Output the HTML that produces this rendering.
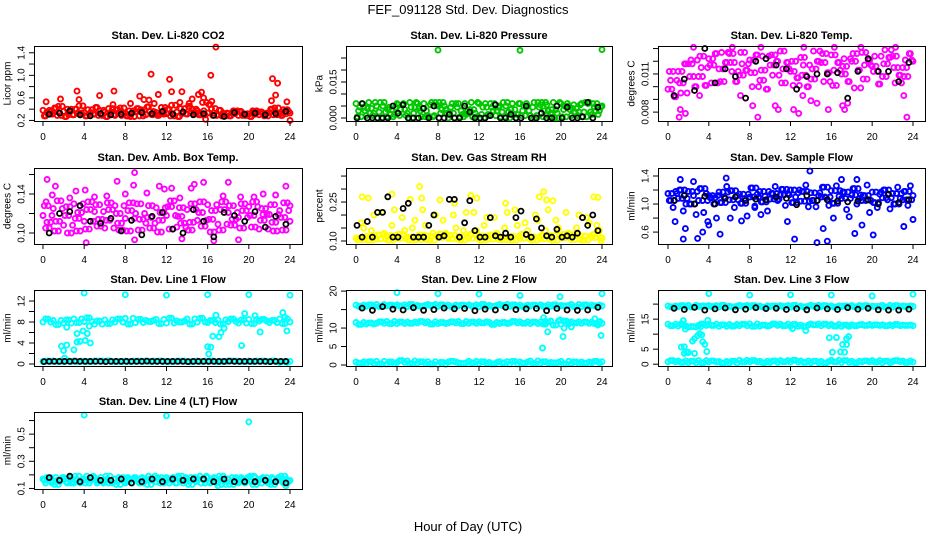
<!DOCTYPE html>
<html><head><meta charset="utf-8"><style>
html,body{margin:0;padding:0;background:#fff;}
svg{display:block;font-family:"Liberation Sans",Arial,sans-serif;}
</style></head><body>
<svg id="chart" width="936" height="540" viewBox="0 0 936 540" xmlns="http://www.w3.org/2000/svg">
<text x="468" y="14" text-anchor="middle" font-size="13">FEF_091128  Std. Dev. Diagnostics</text>
<text x="468" y="531" text-anchor="middle" font-size="13">Hour of Day (UTC)</text>
</svg>
<script>
// ---- shared time arrays (hours) ----
const hours = [0,1,2,3,4,5,6,7,8,9,10,11,12,13,14,15,16,17,18,19,20,21,22,23,24];
const blkHours = [0.6,1.6,2.6,3.6,4.6,5.6,6.6,7.6,8.6,9.6,10.6,11.6,12.6,13.6,14.6,15.6,16.6,17.6,18.6,19.6,20.6,21.6,22.6,23.6];
const blkHours2 = [0.1,1.1,2.1,3.1,4.1,5.1,6.1,7.1,8.1,9.1,10.1,11.1,12.1,13.1,14.1,15.1,16.1,17.1,18.1,19.1,20.1,21.1,22.1,23.1];
const xTicks = [0,4,8,12,16,20,24];

// ---- Li-820 CO2 ----
const co2A = [0.38,0.33,0.36,0.30,0.34,0.31,0.35,0.29,0.33,0.36,0.30,0.34,0.32,0.35,0.31,0.37,0.33,0.30,0.32,0.29,0.31,0.30,0.34,0.32,0.33];
const co2B = [0.28,0.42,0.27,0.40,0.28,0.43,0.27,0.39,0.28,0.41,0.44,0.29,0.40,0.27,0.45,0.30,0.48,0.38,0.28,0.36,0.27,0.35,0.40,0.29,0.30];
const co2C = [0.31,0.45,0.30,0.46,0.31,0.38,0.30,0.42,0.27,0.39,0.31,0.43,0.47,0.32,0.40,0.52,0.29,0.33,0.37,0.32,0.35,0.28,0.42,0.36,0.28];
const co2D = [0.35,0.29,0.40,0.33,0.39,0.29,0.41,0.34,0.37,0.28,0.36,0.31,0.28,0.41,0.34,0.30,0.41,0.28,0.34,0.29,0.37,0.33,0.30,0.39,0.33];
const co2Out = [[0.3,0.53],[1.7,0.58],[3.3,0.72],[3.5,0.57],[5.5,0.64],[6.8,0.48],[6.9,0.72],[9.4,0.63],[9.8,0.57],[10.3,0.56],[10.5,1.02],[10.8,0.5],[11.2,0.66],[12.3,0.93],[12.5,0.71],[13.5,0.71],[13.3,0.52],[14.5,0.58],[15.1,0.66],[15.4,0.7],[15.6,0.6],[16.3,1.0],[16.4,0.54],[16.8,1.5],[22.3,0.94],[22.6,0.65],[22.8,0.86],[22.2,0.55],[23.7,0.53],[24,0.2],[8.5,0.5],[14.2,0.5],[15.8,0.22]];
const co2Blk = [0.31,0.33,0.37,0.30,0.28,0.32,0.30,0.31,0.33,0.34,0.32,0.36,0.31,0.35,0.30,0.32,0.29,0.27,0.34,0.31,0.33,0.30,0.32,0.36];

// ---- Li-820 Pressure ----
const prA = [0.006,0.001,0.005,0.0005,0.006,0.002,0.006,0.001,0.005,0.0,0.006,0.002,0.006,0.001,0.005,0.0,0.006,0.001,0.0055,0.002,0.006,0.001,0.006,0.0015,0.005];
const prB = [0.003,0.0065,0.0025,0.0045,0.001,0.0065,0.003,0.0055,0.002,0.0045,0.003,0.0065,0.0015,0.0045,0.0025,0.006,0.003,0.0045,0.0005,0.0065,0.0035,0.0055,0.0025,0.0045,0.002];
const prC = [0.0005,0.004,0.0,0.0035,0.0055,0.0,0.004,0.0005,0.0065,0.002,0.0005,0.0035,0.0,0.006,0.0005,0.0035,0.001,0.0,0.0065,0.0035,0.0005,0.004,0.0005,0.006,0.0];
const prD = [0.0045,0.002,0.0065,0.0015,0.0035,0.0045,0.0005,0.0065,0.0035,0.006,0.0015,0.0005,0.0045,0.003,0.0065,0.0015,0.005,0.0065,0.003,0.0,0.005,0.0025,0.0065,0.003,0.0055];
const prOut = [[8,0.0283],[16,0.0282],[24,0.0285]];
const prBlk = [0.006,0.0,0.0,0.005,0.0055,0.0,0.004,0.005,0.0,0.0,0.005,0.0,0.0,0.0055,0.0,0.0,0.005,0.0,0.0,0.005,0.0045,0.0,0.0065,0.0045];
const prBlk2 = [0,0,0,0,0.002,0,0,0,0,0.0015,0,0.0025,0,0.001,0,0.0015,0,0,0.002,0,0,0,0.0005,0];

// ---- Li-820 Temp ----
const ltA = [0.0098,0.0112,0.0118,0.0108,0.0122,0.0114,0.0126,0.0109,0.0121,0.0105,0.0117,0.0128,0.0112,0.0123,0.0106,0.0119,0.0125,0.0110,0.0120,0.0127,0.0116,0.0108,0.0124,0.0115,0.0120];
const ltB = [0.0105,0.0095,0.0121,0.0115,0.0103,0.0127,0.0112,0.0118,0.0100,0.0124,0.0109,0.0114,0.0101,0.0117,0.0128,0.0104,0.0113,0.0122,0.0099,0.0117,0.0124,0.0129,0.0103,0.0121,0.0110];
const ltC = [0.0112,0.0103,0.0108,0.0124,0.0117,0.0104,0.0119,0.0127,0.0111,0.0113,0.0125,0.0103,0.0120,0.0109,0.0114,0.0126,0.0101,0.0116,0.0126,0.0106,0.0112,0.0118,0.0115,0.0108,0.0126];
const ltD = [0.0092,0.0118,0.0100,0.0101,0.0126,0.0119,0.0104,0.0113,0.0125,0.0098,0.0120,0.0119,0.0107,0.0100,0.0120,0.0111,0.0119,0.0104,0.0113,0.0121,0.0102,0.0123,0.0109,0.0126,0.0103];
const ltOut = [[1.1,0.0076],[1.2,0.0082],[1.7,0.0079],[0.6,0.0093],[3.1,0.0093],[7.1,0.0093],[8.3,0.0085],[8.8,0.0076],[10.5,0.0085],[10.8,0.0082],[12.3,0.0082],[12.8,0.0079],[13.2,0.0093],[14,0.0089],[14.6,0.0087],[15.7,0.0082],[17.1,0.0085],[17.3,0.0082],[17.6,0.0087],[23.1,0.0093],[23.4,0.0076],[2.5,0.0131],[6.3,0.0131],[9.1,0.0131],[13.3,0.0131],[16.3,0.0131],[18.9,0.0131],[22.3,0.0131]];
const ltBlk = [0.0093,0.0106,0.0097,0.0130,0.0103,0.0114,0.0108,0.0091,0.0120,0.0122,0.0117,0.0114,0.0098,0.0108,0.0110,0.0110,0.0111,0.0091,0.0112,0.0122,0.0112,0.0112,0.0104,0.0119];

// ---- Amb Box Temp ----
const abA = [0.118,0.125,0.108,0.130,0.112,0.122,0.105,0.128,0.115,0.120,0.110,0.126,0.118,0.106,0.124,0.113,0.129,0.109,0.121,0.116,0.127,0.104,0.119,0.123,0.112];
const abB = [0.105,0.112,0.127,0.102,0.124,0.107,0.131,0.110,0.123,0.103,0.128,0.113,0.104,0.126,0.111,0.132,0.101,0.124,0.108,0.130,0.106,0.125,0.111,0.103,0.127];
const abC = [0.128,0.102,0.118,0.115,0.104,0.129,0.113,0.120,0.102,0.130,0.116,0.101,0.127,0.117,0.103,0.121,0.114,0.103,0.128,0.105,0.118,0.113,0.129,0.116,0.108];
const abD = [0.111,0.133,0.100,0.121,0.132,0.114,0.124,0.103,0.131,0.114,0.105,0.121,0.133,0.110,0.130,0.107,0.123,0.132,0.114,0.123,0.132,0.119,0.102,0.131,0.120];
const abOut = [[0.3,0.132],[0.4,0.155],[1.2,0.148],[0.9,0.139],[2.6,0.136],[3.2,0.143],[4.1,0.144],[5,0.137],[6.2,0.138],[7.2,0.153],[8,0.14],[8.8,0.149],[8.9,0.162],[10.1,0.141],[11.3,0.148],[11.8,0.145],[12.5,0.146],[13.3,0.136],[14.4,0.146],[14.7,0.15],[15.6,0.152],[17.5,0.138],[18,0.152],[19.2,0.137],[20.5,0.137],[21.4,0.14],[22.6,0.139],[23.6,0.148],[24,0.128],[4.2,0.09],[8.9,0.093],[13.5,0.094],[16.6,0.092],[19,0.093]];
const abBlk = [0.100,0.120,0.122,0.128,0.112,0.110,0.115,0.102,0.113,0.098,0.117,0.121,0.104,0.100,0.124,0.112,0.096,0.121,0.118,0.112,0.122,0.106,0.117,0.109];

// ---- Gas Stream RH ----
const rhA = [0.112,0.118,0.108,0.121,0.110,0.115,0.106,0.119,0.113,0.109,0.117,0.111,0.120,0.107,0.114,0.118,0.110,0.116,0.108,0.121,0.112,0.106,0.119,0.113,0.111];
const rhB = [0.105,0.104,0.124,0.103,0.126,0.104,0.123,0.103,0.127,0.122,0.104,0.125,0.103,0.124,0.105,0.103,0.126,0.104,0.122,0.103,0.126,0.124,0.104,0.125,0.102];
const rhC = [0.17,0.14,0.21,0.16,0.19,0.15,0.22,0.13,0.18,0.20,0.14,0.21,0.16,0.19,0.15,0.22,0.17,0.20,0.14,0.18,0.21,0.15,0.19,0.16,0.20];
const rhD = [0.15,0.20,0.13,0.22,0.14,0.18,0.16,0.20,0.13,0.15,0.21,0.14,0.19,0.13,0.21,0.16,0.14,0.18,0.22,0.15,0.13,0.20,0.17,0.14,0.13];
const rhOut = [[0.6,0.27],[1.2,0.265],[3.5,0.28],[5.3,0.26],[6.2,0.31],[6.4,0.265],[8.2,0.258],[9.6,0.245],[11.2,0.275],[11.8,0.265],[14.6,0.245],[17.9,0.27],[18.3,0.29],[18.6,0.258],[19.2,0.255],[23.2,0.27],[23.6,0.268],[23.9,0.1]];
const rhBlk = [0.115,0.115,0.21,0.115,0.225,0.115,0.115,0.20,0.12,0.26,0.17,0.14,0.115,0.12,0.13,0.19,0.125,0.185,0.12,0.145,0.12,0.13,0.16,0.14];
const rhBlk2 = [0.16,0.175,0.21,0.27,0.115,0.245,0.115,0.16,0.115,0.26,0.115,0.255,0.115,0.19,0.115,0.115,0.215,0.115,0.15,0.115,0.115,0.115,0.19,0.2];

// ---- Sample Flow ----
const sfA = [1.15,1.08,1.18,1.05,1.12,1.17,1.06,1.14,1.10,1.18,1.07,1.13,1.20,1.04,1.16,1.10,1.19,1.08,1.13,1.05,1.17,1.09,1.15,1.06,1.12];
const sfB = [1.05,1.20,1.00,1.22,1.09,1.02,1.19,1.01,1.23,1.03,1.15,1.21,1.02,1.18,1.05,1.24,1.01,1.17,1.22,1.12,1.02,1.20,1.00,1.18,1.04];
const sfC = [0.95,0.90,1.12,0.88,1.00,1.10,0.95,1.08,0.97,1.11,1.25,0.98,1.10,1.27,0.96,1.09,1.26,0.92,1.00,1.27,0.95,1.06,1.24,0.98,1.10];
const sfD = [1.18,1.00,0.85,1.15,0.80,1.25,1.12,0.83,1.14,0.90,1.05,1.15,1.16,0.96,1.12,0.98,1.11,0.82,1.08,0.88,1.14,0.93,1.08,1.26,0.97];
const sfOut = [[0.7,0.75],[1.2,1.35],[1.5,0.5],[1.7,0.65],[2.5,1.32],[2.9,0.51],[3.4,0.6],[3.9,0.75],[5.1,0.57],[5.7,1.37],[6.1,0.8],[7.2,0.76],[8.5,0.95],[9.1,0.85],[11.7,0.75],[12.4,0.5],[14.6,0.45],[15.2,0.65],[15.6,0.47],[16.2,0.8],[17,1.35],[18.3,0.58],[18.5,1.35],[19,0.7],[20.1,0.56],[23.1,0.68],[24,0.78],[13.9,1.47],[4,0.7]];
const sfBlk = [1.05,1.12,1.00,1.11,1.00,1.08,1.10,1.05,1.07,1.06,1.10,1.08,0.99,1.12,1.05,1.06,1.04,1.03,1.04,1.06,1.00,1.14,1.02,1.06];

// ---- Line 1 Flow ----
const l1A = [8.0,8.3,7.8,8.6,8.1,7.6,8.4,8.0,8.7,7.9,8.3,8.5,7.8,8.2,8.6,8.0,7.9,8.4,8.1,7.8,8.5,8.2,7.9,8.6,8.0];
const l1B = [8.6,7.5,8.4,7.9,8.8,8.2,7.7,8.6,7.6,8.5,8.1,7.7,8.7,8.0,7.6,8.7,8.3,7.6,8.6,8.4,7.7,8.5,8.3,7.7,8.5];
const l1C = [0.5,0.6,0.45,0.55,0.5,0.6,0.5,0.45,0.55,0.5,0.6,0.5,0.45,0.55,0.5,0.6,0.5,0.45,0.55,0.5,0.6,0.5,0.45,0.3,0.5];
const l1D = [0.55,0.5,0.6,0.45,0.5,0.55,0.6,0.5,0.45,0.55,0.5,0.6,0.5,0.55,0.45,0.5,0.6,0.5,0.55,0.5,0.45,0.55,0.6,0.5,0.55];
const l1Out = [[1.8,3.4],[2.0,2.6],[2.1,1.1],[2.3,3.6],[2.3,7.0],[3.0,2.7],[3.3,4.2],[3.3,5.8],[3.6,4.3],[3.9,6.3],[4.1,4.5],[4.3,5.8],[4.6,4.0],[4.5,7.2],[4.0,13.5],[8,13.2],[12,13.1],[16,13.2],[20,13.2],[24,13.1],[16.0,3.3],[16.1,1.9],[16.3,3.2],[16.5,5.3],[17.1,5.2],[17.3,6.0],[17.6,6.8],[16.8,9.3],[19.3,3.5],[19.6,9.6],[20.6,9.2],[21.1,6.1],[23.3,9.8],[23.7,6.3],[23.5,8.9]];
const l1Blk = [0.5,0.5,0.5,0.5,0.5,0.5,0.5,0.5,0.5,0.5,0.5,0.5,0.5,0.5,0.5,0.5,0.5,0.5,0.5,0.5,0.5,0.5,0.5,0.5];
const l1Blk2 = [0.45,0.5,0.5,0.55,0.5,0.5,0.45,0.5,0.5,0.5,0.55,0.5,0.5,0.5,0.45,0.5,0.5,0.5,0.55,0.5,0.5,0.5,0.45,0.5];

// ---- Line 2 Flow ----
const l2Hi = [16.2,15.9,16.4,16.0,16.3,15.8,16.1,16.4,15.9,16.2,16.0,16.3,15.8,16.1,16.4,15.9,16.2,16.0,16.3,15.9,16.1,16.4,15.8,16.2,16.0];
const l2Hi2 = [15.9,16.3,15.8,16.2,16.0,16.4,15.9,16.1,16.3,15.8,16.2,16.0,16.4,15.9,16.1,16.3,15.8,16.2,15.9,16.3,16.0,15.8,16.3,16.0,16.2];
const l2Mid = [11.0,11.4,11.7,11.2,11.6,11.3,11.8,11.1,11.5,11.7,11.2,11.6,11.4,11.0,11.5,11.8,11.3,11.6,11.1,10.8,11.9,11.4,11.6,11.2,11.5];
const l2Mid2 = [11.5,11.1,11.3,11.8,11.2,11.6,11.4,11.7,11.2,11.4,11.8,11.3,11.7,11.5,11.2,11.4,11.7,11.2,11.6,11.9,11.1,11.7,11.3,11.6,11.3];
const l2Lo = [0.8,0.4,1.0,0.3,0.7,1.1,0.5,0.9,0.2,0.8,0.6,1.0,0.4,0.7,0.9,0.3,0.8,1.1,0.5,0.7,1.0,0.4,0.8,0.6,0.9];
const l2Lo2 = [0.5,0.9,0.3,0.8,1.2,0.4,0.9,0.3,0.7,1.0,0.4,0.6,0.9,0.3,0.6,1.0,0.5,0.4,0.9,0.6,0.3,0.8,0.5,1.0,0.6];
const l2Out = [[4,19.6],[8,19.3],[12,19.2],[16,18.8],[19.9,18.5],[24,19.3],[18.3,12.8],[18.2,4.6],[18.7,9.0],[18.4,11.8],[19.9,12.2],[20.2,7.7],[20.3,10.0],[20.7,11.6],[21,10.3],[23.3,12.5],[23.6,10.8],[23.9,8.0],[23.8,11.8]];
const l2Blk = [15.4,14.8,15.8,15.1,14.9,15.5,14.8,15.0,15.4,15.2,15.3,14.7,15.1,14.9,15.6,15.0,15.2,15.3,14.7,15.3,14.9,14.8,14.9,15.6];

// ---- Line 3 Flow ----
const l3Hi = [19.4,19.1,19.6,19.2,19.5,19.0,19.3,19.6,19.1,19.4,19.2,19.5,19.0,19.3,19.6,19.1,19.4,19.2,19.5,19.1,19.3,19.6,19.0,19.4,19.2];
const l3Hi2 = [19.1,19.5,19.0,19.4,19.2,19.6,19.1,19.3,19.5,19.0,19.4,19.2,19.6,19.1,19.3,19.5,19.0,19.4,19.1,19.5,19.2,19.0,19.5,19.2,19.4];
const l3Mid = [12.8,13.2,12.5,13.4,12.9,13.1,12.7,13.3,12.6,13.0,13.4,12.8,13.2,12.5,13.1,13.3,12.7,13.0,12.8,12.9,13.1,12.8,13.2,12.9,13.0];
const l3Mid2 = [13.3,12.7,12.4,12.9,13.3,12.6,13.2,12.8,13.4,12.7,12.9,13.3,12.6,13.0,13.4,12.8,13.2,12.6,13.1,13.2,12.9,13.1,12.8,13.0,12.8];
const l3Lo = [0.8,1.1,0.5,1.2,0.7,0.9,0.4,1.3,0.8,1.0,0.6,1.2,0.7,1.1,0.5,0.9,1.3,0.6,1.0,0.8,1.2,0.5,0.9,1.1,0.7];
const l3Lo2 = [1.2,0.6,1.0,0.5,1.1,0.4,1.0,0.7,1.2,0.5,1.1,0.8,1.3,0.6,1.0,0.4,0.8,1.2,0.5,1.1,0.7,1.0,1.2,0.6,1.0];
const l3Out = [[1.3,13.5],[1.5,14.5],[1.3,5.7],[1.6,5.8],[1.6,3.6],[1.8,4.0],[2.0,3.9],[2.6,3.6],[2.4,7.7],[2.6,8.5],[2.9,9.5],[3.1,10.2],[3.3,9.8],[3.4,7.5],[3.6,6.6],[3.8,4.2],[3.2,12.5],[3.9,14.6],[4,23.5],[8,23.0],[12,23.1],[16,23.0],[20,22.7],[24,23.3],[15.8,8.8],[16.1,4.0],[16.5,8.9],[16.9,4.1],[17.1,6.6],[17.3,4.0],[17.5,6.6],[17.5,8.5],[17.7,9.2],[17.6,12.8],[1.7,11.7],[13.5,11.2],[12.2,11.9]];
const l3Blk = [18.6,18.2,18.9,18.0,18.4,18.7,18.1,18.3,18.8,18.5,18.6,18.2,18.5,18.1,18.7,18.4,18.2,18.8,18.3,18.6,18.1,18.0,18.0,18.3];

// ---- Line 4 (LT) Flow ----
const l4A = [0.17,0.15,0.18,0.14,0.16,0.18,0.15,0.17,0.14,0.18,0.16,0.15,0.18,0.14,0.17,0.16,0.18,0.15,0.17,0.14,0.18,0.16,0.15,0.17,0.16];
const l4B = [0.14,0.18,0.15,0.17,0.19,0.14,0.17,0.15,0.18,0.15,0.19,0.17,0.14,0.18,0.15,0.19,0.14,0.17,0.15,0.18,0.15,0.14,0.18,0.15,0.17];
const l4C = [0.16,0.13,0.17,0.19,0.14,0.16,0.19,0.13,0.16,0.17,0.13,0.18,0.16,0.19,0.13,0.17,0.15,0.19,0.13,0.16,0.19,0.17,0.13,0.19,0.14];
const l4D = [0.18,0.16,0.14,0.16,0.17,0.15,0.14,0.18,0.17,0.14,0.17,0.14,0.17,0.16,0.18,0.14,0.17,0.13,0.18,0.17,0.13,0.18,0.17,0.14,0.18];
const l4Out = [[4,0.64],[12,0.635],[20,0.59],[23.6,0.12],[17,0.12]];
const l4Blk = [0.18,0.16,0.19,0.15,0.18,0.16,0.16,0.17,0.14,0.15,0.17,0.15,0.17,0.16,0.17,0.17,0.15,0.17,0.15,0.15,0.15,0.16,0.15,0.14];

// ---- layout (positions only) ----
const C1=[34,302,43,290], C2=[346,612,356,602], C3=[658,925,668,913];
const R1=[46,121], R2=[168,244], R3=[290,366], R4=[412,489];

// each band array is sampled at two sub-hour offsets
const panels = [
 {name:'co2',title:'Stan. Dev. Li-820 CO2',ylab:'Licor ppm',col:'#ff0000',c:C1,r:R1,lo:0.19,hi:1.52,
  yt:[0.2,0.4,0.6,0.8,1.0,1.2,1.4],yl:['0.2','','0.6','','1.0','','1.4'],
  bands:[[co2A,0],[co2B,0.25],[co2C,0.5],[co2D,0.75],[co2B,0.125],[co2D,0.375],[co2A,0.625],[co2C,0.875]],out:co2Out,blk:[[co2Blk,blkHours]]},
 {name:'pressure',title:'Stan. Dev. Li-820 Pressure',ylab:'kPa',col:'#00c800',c:C2,r:R1,lo:-0.00125,hi:0.03,
  yt:[0,0.005,0.01,0.015,0.02,0.025],yl:['0.000','','','0.015','',''],
  bands:[[prA,0],[prB,0.25],[prC,0.5],[prD,0.75],[prC,0.125],[prD,0.375],[prA,0.625],[prB,0.875]],out:prOut,blk:[[prBlk,blkHours],[prBlk2,blkHours2]]},
 {name:'licor-temp',title:'Stan. Dev. Li-820 Temp.',ylab:'degrees C',col:'#ff00ff',c:C3,r:R1,lo:0.0073,hi:0.0132,
  yt:[0.008,0.009,0.010,0.011,0.012,0.013],yl:['0.008','','','0.011','',''],
  bands:[[ltA,0],[ltB,0.25],[ltC,0.5],[ltD,0.75],[ltC,0.125],[ltA,0.375],[ltD,0.625],[ltB,0.875]],out:ltOut,blk:[[ltBlk,blkHours]]},
 {name:'amb-box-temp',title:'Stan. Dev. Amb. Box Temp.',ylab:'degrees C',col:'#ff00ff',c:C1,r:R2,lo:0.0887,hi:0.1667,
  yt:[0.10,0.12,0.14,0.16],yl:['0.10','','0.14',''],
  bands:[[abA,0],[abB,0.25],[abC,0.5],[abD,0.75],[abC,0.125],[abD,0.375],[abB,0.625],[abA,0.875]],out:abOut,blk:[[abBlk,blkHours]]},
 {name:'gas-rh',title:'Stan. Dev. Gas Stream RH',ylab:'percent',col:'#ffff00',c:C2,r:R2,lo:0.0885,hi:0.381,
  yt:[0.10,0.15,0.20,0.25,0.30,0.35],yl:['0.10','','','0.25','',''],
  bands:[[rhA,0],[rhB,0.25],[rhC,0.5],[rhD,0.75],[rhB,0.125],[rhA,0.375],[rhB,0.625],[rhA,0.875]],out:rhOut,blk:[[rhBlk,blkHours],[rhBlk2,blkHours2]]},
 {name:'sample-flow',title:'Stan. Dev. Sample Flow',ylab:'ml/min',col:'#0000ff',c:C3,r:R2,lo:0.43,hi:1.514,
  yt:[0.6,0.8,1.0,1.2,1.4],yl:['0.6','','1.0','','1.4'],
  bands:[[sfA,0],[sfB,0.25],[sfC,0.5],[sfD,0.75],[sfB,0.125],[sfA,0.375],[sfB,0.625],[sfA,0.875]],out:sfOut,blk:[[sfBlk,blkHours]]},
 {name:'line1-flow',title:'Stan. Dev. Line 1 Flow',ylab:'ml/min',col:'#00ffff',c:C1,r:R3,lo:-0.38,hi:14.1,
  yt:[0,2,4,6,8,10,12],yl:['0','','4','','8','','12'],
  bands:[[l1A,0],[l1B,0.5],[l1C,0],[l1D,0.5],[l1B,0.25],[l1A,0.75],[l1D,0.25],[l1C,0.75]],out:l1Out,blk:[[l1Blk,blkHours],[l1Blk2,blkHours2]]},
 {name:'line2-flow',title:'Stan. Dev. Line 2 Flow',ylab:'ml/min',col:'#00ffff',c:C2,r:R3,lo:-0.27,hi:20.3,
  yt:[0,5,10,15,20],yl:['0','5','10','','20'],
  bands:[[l2Hi,0],[l2Hi2,0.5],[l2Mid,0.25],[l2Mid2,0.75],[l2Lo,0],[l2Lo2,0.5],[l2Hi2,0.25],[l2Hi,0.75],[l2Mid2,0],[l2Mid,0.5],[l2Lo2,0.25],[l2Lo,0.75]],out:l2Out,blk:[[l2Blk,blkHours]]},
 {name:'line3-flow',title:'Stan. Dev. Line 3 Flow',ylab:'ml/min',col:'#00ffff',c:C3,r:R3,lo:-0.6,hi:24.7,
  yt:[0,5,10,15,20],yl:['0','5','','15',''],
  bands:[[l3Hi,0],[l3Hi2,0.5],[l3Mid,0.25],[l3Mid2,0.75],[l3Lo,0],[l3Lo2,0.5],[l3Hi2,0.25],[l3Hi,0.75],[l3Mid2,0],[l3Mid,0.5],[l3Lo2,0.25],[l3Lo,0.75]],out:l3Out,blk:[[l3Blk,blkHours]]},
 {name:'line4-flow',title:'Stan. Dev. Line 4 (LT) Flow',ylab:'ml/min',col:'#00ffff',c:C1,r:R4,lo:0.096,hi:0.663,
  yt:[0.1,0.2,0.3,0.4,0.5,0.6],yl:['0.1','','0.3','','0.5',''],
  bands:[[l4A,0],[l4B,0.25],[l4C,0.5],[l4D,0.75],[l4C,0.125],[l4D,0.375],[l4A,0.625],[l4B,0.875]],out:l4Out,blk:[[l4Blk,blkHours]]}
];

const svg = document.getElementById('chart');
const NS = 'http://www.w3.org/2000/svg';
function mk(tag, attrs, parent){
  const e = document.createElementNS(NS, tag);
  for (const k in attrs) e.setAttribute(k, attrs[k]);
  parent.appendChild(e);
  return e;
}

panels.forEach(p => {
  const [x0,x1,xa,xb] = p.c, [y0,y1] = p.r;
  const X = t => xa + t/24*(xb-xa);
  const Y = v => y1 - (v-p.lo)/(p.hi-p.lo)*(y1-y0);
  const g = mk('g', {}, svg);
  
  

  const tt = mk('text', {x:(x0+x1)/2, y:y0-7, 'text-anchor':'middle', 'font-size':'11', 'font-weight':'bold'}, g);
  
  
  tt.textContent = p.title;

  const yl = mk('text', {transform:`translate(${x0-26},${(y0+y1)/2}) rotate(-90)`, 'text-anchor':'middle', 'font-size':'10', 'dominant-baseline':'central'}, g);
  
  
  yl.textContent = p.ylab;

  const pts = mk('g', {fill:'none', stroke:p.col, 'stroke-width':'1.9'}, g);
  
  
  p.bands.forEach(([vals, off]) => {
    vals.forEach((v, i) => {
      const t = hours[i] + off;
      if (t > 24.05) return;
      const c = mk('circle', {cx:X(t).toFixed(1), cy:Y(v).toFixed(1), r:'2.5'}, pts);
      
      
    });
  });
  p.out.forEach(([t, v]) => {
    const c = mk('circle', {cx:X(t).toFixed(1), cy:Y(v).toFixed(1), r:'2.5'}, pts);
    
    
  });
  const bp = mk('g', {fill:'none', stroke:'#000', 'stroke-width':'1.8'}, g);
  
  
  p.blk.forEach(([vals, ts]) => {
    vals.forEach((v, i) => {
      const c = mk('circle', {cx:X(ts[i]).toFixed(1), cy:Y(v).toFixed(1), r:'2.5'}, bp);
      
      
    });
  });

  const box = mk('rect', {x:x0+0.5, y:y0+0.5, width:x1-x0, height:y1-y0, fill:'none', stroke:'#000', 'stroke-width':'1'}, g);
  
  

  const xg = mk('g', {'font-size':'10'}, g);
  
  
  mk('line', {x1:X(0), x2:X(24), y1:y1+0.5, y2:y1+0.5, stroke:'#000'}, xg);
  xTicks.forEach(t => {
    mk('line', {x1:X(t), x2:X(t), y1:y1, y2:y1+5, stroke:'#000'}, xg);
    const l = mk('text', {x:X(t), y:y1+19, 'text-anchor':'middle'}, xg);
    
    
    l.textContent = t;
  });

  const yg = mk('g', {'font-size':'10'}, g);
  
  
  p.yt.forEach((v, i) => {
    mk('line', {x1:x0-5, x2:x0, y1:Y(v), y2:Y(v), stroke:'#000'}, yg);
    if (p.yl[i]) {
      const l = mk('text', {transform:`translate(${x0-12},${Y(v)}) rotate(-90)`, 'text-anchor':'middle', 'dominant-baseline':'central'}, yg);
      
      
      l.textContent = p.yl[i];
    }
  });
});
</script>
</body></html>
